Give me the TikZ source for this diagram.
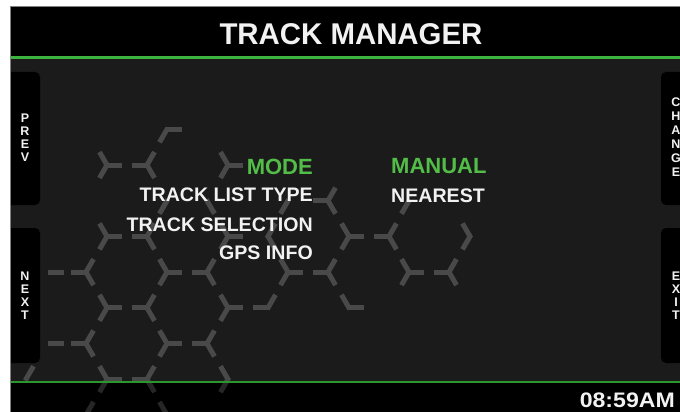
\documentclass[tikz,border=0pt]{standalone}
\usepackage{fontspec}
\setmainfont{Liberation Sans}
\definecolor{screenbg}{HTML}{1B1B1B}
\definecolor{hexgrey}{HTML}{494949}
\definecolor{hexdim}{HTML}{262626}
\definecolor{modegreen}{HTML}{52BE47}
\definecolor{barline}{HTML}{3DB43D}
\definecolor{barlinedark}{HTML}{2D952D}
\definecolor{offwhite}{HTML}{F2F2F2}

% honeycomb fragments: x/y/arm angles
\newcommand{\honeycomb}[1]{%
\foreach \px/\py/\angs in {167/129.3/{120,0},
  107/165/{0,120,240}, 147/165/{180,60,300}, 228/165/{0,120,240},
  167/200.7/{120}, 207/200.7/{60}, 288/200.7/{120}, 328/200.7/{180,60,300}, 409/200.7/{120},
  107/236.4/{0,120,240}, 147/236.4/{180,60,300}, 228/236.4/{0,120,240}, 268/236.4/{60,300},
  349/236.4/{0,120,240}, 389/236.4/{180,60,300}, 470/236.4/{120,240},
  49/272.1/{0}, 86/272.1/{180,60,300}, 167/272.1/{0,120,240}, 207/272.1/{180,60,300},
  288/272.1/{0,120,240}, 328/272.1/{180,60,300}, 409/272.1/{0,120,240}, 449/272.1/{180,60,300},
  107/307.8/{0,120,240}, 147/307.8/{180,60,300}, 228/307.8/{0,120,240}, 268/307.8/{180,300}, 349/307.8/{240,0},
  49/343.5/{0}, 86/343.5/{180,60,300}, 167/343.5/{0,120,240}, 207/343.5/{180,60,300},
  26/379.2/{300}, 107/379.2/{0,120,240}, 147/379.2/{180,60,300}, 228/379.2/{240,120},
  86/414.9/{300}, 167/414.9/{240}}
  \foreach \a in \angs
    \draw [#1, line width=5] (\px,\py) ++(\a+180:1.5) -- ++(\a:16.5);
}

\begin{document}
\begin{tikzpicture}[x=1pt,y=-1pt]
\tikzstyle{every node}+=[inner sep=0pt, text=offwhite]
\tikzstyle{sidetab}=[fill=black, rounded corners=5]
\tikzstyle{tabtext}=[font=\bfseries\fontsize{12.5}{13}\selectfont, align=center]
\tikzstyle{menuitem}=[font=\bfseries\fontsize{19.6}{19.6}\selectfont, anchor=east]
\tikzstyle{valueitem}=[font=\bfseries\fontsize{19.6}{19.6}\selectfont, anchor=west]
\tikzstyle{greenitem}=[font=\bfseries\fontsize{22}{22}\selectfont, text=modegreen]
\useasboundingbox (0,0) rectangle (680,412);
\fill [white] (0,0) rectangle (680,412);
\begin{scope}
\clip (10,6) rectangle (680,412);
\fill [screenbg] (10,6) rectangle (680,412);
\fill [black] (10,6) rectangle (680,57);
\fill [black] (10,382) rectangle (680,412);
\begin{scope}
\clip (10,58.5) rectangle (680,381.5);
\honeycomb{hexgrey}
\end{scope}
\begin{scope}
\clip (10,383) rectangle (680,412);
\honeycomb{hexdim}
\end{scope}
\draw [barline, line width=2.5] (10,57.3) -- (680,57.3);
\draw [barlinedark, line width=2] (10,382.3) -- (680,382.3);
% side buttons
\fill [sidetab] (0,72) rectangle (40,205);
\fill [sidetab] (0,228) rectangle (40,363);
\fill [sidetab] (661,72) rectangle (700,205);
\fill [sidetab] (661,228) rectangle (700,363);
\draw (25,138) node [tabtext] (prev) {P\\R\\E\\V};
\draw (25,296) node [tabtext] (next) {N\\E\\X\\T};
\draw (676,137.5) node [tabtext, font=\bfseries\fontsize{12.5}{14}\selectfont] (change) {C\\H\\A\\N\\G\\E};
\draw (676,296) node [tabtext] (exit) {E\\X\\I\\T};
% title and menu
\draw (351,34) node [font=\bfseries\fontsize{30}{30}\selectfont] (title) {\scalebox{0.98}[1]{TRACK MANAGER}};
\draw (313,166.5) node [menuitem, greenitem] (mode) {MODE};
\draw (313,195) node [menuitem] (listtype) {TRACK LIST TYPE};
\draw (313,224.5) node [menuitem] (selection) {TRACK SELECTION};
\draw (313,252.5) node [menuitem] (gpsinfo) {GPS INFO};
\draw (391,166.5) node [valueitem, greenitem] (manual) {MANUAL};
\draw (391,195.5) node [valueitem] (nearest) {NEAREST};
\draw (675,400.5) node [anchor=east, font=\bfseries\fontsize{21}{21}\selectfont] (clock) {\scalebox{1.1}[1]{08:59AM}};
\end{scope}
\draw [gray, line width=0.8] (10.4,412) -- (10.4,6.4) -- (680,6.4);
\end{tikzpicture}
\end{document}
